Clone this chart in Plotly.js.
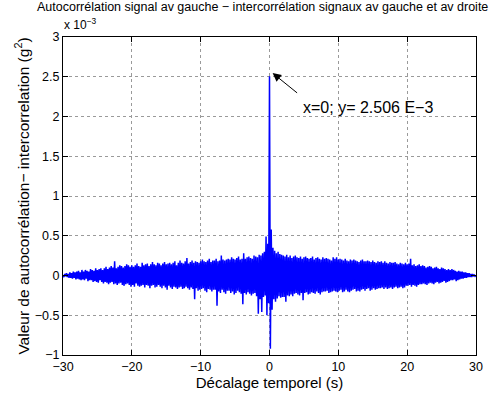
<!DOCTYPE html>
<html>
<head>
<meta charset="utf-8">
<script src="https://cdn.plot.ly/plotly-3.0.1.min.js"></script>
<style>html,body{margin:0;padding:0;background:#fff;}#chart{width:492px;height:403px;}</style>
</head>
<body>
<div id="chart"></div>
<script>
// Lag axis (s): regular sampling
const lagStart = -30;
const lagStep = 0.125;

// Correlation difference values, in units of 1e-3 g^2
const corrValues = [
  0.00,-0.02,0.02,-0.01,0.03,-0.02,0.02,-0.03,0.04,-0.03,0.03,-0.04,0.05,-0.03,0.04,-0.05,
  0.05,-0.04,0.06,-0.05,0.04,-0.06,0.07,-0.05,0.05,-0.06,0.07,-0.04,0.06,-0.07,0.05,-0.06,
  0.08,-0.06,0.07,-0.08,0.06,-0.07,0.09,-0.08,0.07,-0.09,0.08,-0.06,0.09,-0.08,0.07,-0.10,
  0.09,-0.08,0.11,-0.09,0.08,-0.11,0.10,-0.09,0.12,-0.08,0.10,-0.11,0.18,-0.10,0.09,-0.12,
  0.11,-0.10,0.13,-0.09,0.12,-0.12,0.10,-0.13,0.12,-0.11,0.14,-0.10,0.13,-0.12,0.11,-0.14,
  0.13,-0.12,0.11,-0.14,0.13,-0.10,0.15,-0.13,0.12,-0.14,0.11,-0.13,0.16,-0.12,0.13,-0.15,
  0.14,-0.12,0.15,-0.13,0.12,-0.16,0.14,-0.13,0.17,-0.12,0.14,-0.15,0.13,-0.14,0.16,-0.12,
  0.15,-0.14,0.13,-0.16,0.15,-0.13,0.17,-0.15,0.14,-0.18,0.15,-0.13,0.16,-0.15,0.14,-0.17,
  0.16,-0.14,0.18,-0.15,0.13,-0.17,0.16,-0.15,0.19,-0.14,0.16,-0.17,0.15,-0.16,0.18,-0.14,
  0.22,-0.16,0.15,-0.18,0.17,-0.15,0.19,-0.17,0.16,-0.30,0.18,-0.16,0.17,-0.19,0.16,-0.18,
  0.18,-0.17,0.20,-0.16,0.18,-0.19,0.17,-0.21,0.19,-0.17,0.21,-0.18,0.17,-0.20,0.19,-0.18,
  0.19,-0.18,0.21,-0.38,0.18,-0.20,0.19,-0.22,0.25,-0.18,0.20,-0.21,0.19,-0.23,0.20,-0.19,
  0.21,-0.19,0.20,-0.22,0.23,-0.20,0.21,-0.24,0.20,-0.22,0.22,-0.19,0.24,-0.21,0.20,-0.23,
  0.21,-0.36,0.28,-0.22,0.21,-0.24,0.23,-0.21,0.24,-0.23,0.22,-0.25,0.21,-0.23,0.25,-0.22,
  0.24,-0.26,0.23,-0.48,0.26,-0.30,0.25,-0.46,0.28,-0.27,0.30,-0.25,0.49,-0.50,0.40,-0.35,
  2.506,-0.92,0.58,-0.43,0.35,-0.30,0.31,-0.33,0.28,-0.29,0.30,-0.26,0.27,-0.28,0.26,-0.27,
  0.25,-0.27,0.24,-0.33,0.26,-0.25,0.23,-0.26,0.25,-0.24,0.22,-0.26,0.24,-0.23,0.25,-0.22,
  0.23,-0.24,0.22,-0.25,0.24,-0.22,0.21,-0.31,0.23,-0.22,0.24,-0.21,0.22,-0.24,0.21,-0.23,
  0.22,-0.21,0.24,-0.22,0.20,-0.23,0.22,-0.20,0.23,-0.22,0.21,-0.24,0.20,-0.21,0.23,-0.20,
  0.21,-0.20,0.22,-0.19,0.21,-0.22,0.20,-0.21,0.19,-0.20,0.23,-0.19,0.21,-0.20,0.23,-0.21,
  0.20,-0.19,0.21,-0.18,0.20,-0.21,0.19,-0.20,0.21,-0.18,0.19,-0.20,0.18,-0.21,0.20,-0.19,
  0.19,-0.18,0.20,-0.17,0.19,-0.20,0.18,-0.19,0.17,-0.20,0.19,-0.18,0.20,-0.17,0.18,-0.19,
  0.18,-0.17,0.19,-0.16,0.18,-0.19,0.17,-0.18,0.19,-0.16,0.17,-0.18,0.16,-0.17,0.18,-0.16,
  0.17,-0.16,0.18,-0.15,0.16,-0.17,0.18,-0.15,0.16,-0.17,0.15,-0.16,0.17,-0.15,0.16,-0.17,
  0.16,-0.15,0.17,-0.14,0.15,-0.16,0.14,-0.15,0.16,-0.14,0.15,-0.16,0.14,-0.15,0.16,-0.13,
  0.14,-0.13,0.15,-0.12,0.21,-0.14,0.13,-0.12,0.14,-0.13,0.12,-0.14,0.13,-0.12,0.14,-0.11,
  0.12,-0.11,0.13,-0.10,0.12,-0.11,0.10,-0.12,0.11,-0.10,0.12,-0.09,0.11,-0.10,0.09,-0.11,
  0.10,-0.09,0.11,-0.08,0.09,-0.10,0.08,-0.09,0.10,-0.08,0.09,-0.07,0.08,-0.09,0.07,-0.08,
  0.08,-0.07,0.07,-0.06,0.08,-0.06,0.07,-0.05,0.06,-0.07,0.05,-0.06,0.06,-0.05,0.05,-0.04,
  0.05,-0.04,0.04,-0.03,0.04,-0.03,0.03,-0.02,0.03,-0.02,0.02,-0.02,0.02,-0.01,0.01,-0.01,
  0.00
];

const xTickVals = [-30, -20, -10, 0, 10, 20, 30];
const yTickVals = [-1, -0.5, 0, 0.5, 1, 1.5, 2, 2.5, 3];

const peakLag = 0;
const peakValue = 2.506;
const peakLabel = "x=0; y= 2.506 E\u22123";

const lags = corrValues.map((_, i) => lagStart + i * lagStep);

const font = "Liberation Sans, Arial, Helvetica, sans-serif";

const trace = {
  x: lags,
  y: corrValues,
  type: 'scatter',
  mode: 'lines',
  line: {color: '#0000ff', width: 1.5},
  hoverinfo: 'skip'
};

const axisCommon = {
  showline: true,
  linecolor: '#000',
  linewidth: 1,
  mirror: 'ticks',
  ticks: 'inside',
  ticklen: 5,
  tickcolor: '#000',
  showgrid: true,
  gridcolor: '#9a9a9a',
  griddash: 'dot',
  gridwidth: 1,
  zeroline: false,
  tickfont: {family: font, size: 12.5, color: '#000'}
};

const layout = {
  width: 492,
  height: 403,
  margin: {l: 63, r: 16, t: 37, b: 48},
  paper_bgcolor: '#fff',
  plot_bgcolor: '#fff',
  showlegend: false,
  title: {
    text: 'Autocorrélation signal av gauche \u2212 intercorrélation signaux av gauche et av droite',
    font: {family: font, size: 12.5, color: '#000'},
    xref: 'container', x: 37 / 492, xanchor: 'left',
    yref: 'container', y: 0.983, yanchor: 'middle'
  },
  xaxis: Object.assign({}, axisCommon, {
    range: [-30, 30],
    tickvals: xTickVals,
    title: {text: 'Décalage temporel (s)', font: {family: font, size: 15, color: '#000'}, standoff: 3}
  }),
  yaxis: Object.assign({}, axisCommon, {
    range: [-1, 3],
    tickvals: yTickVals,
    title: {text: 'Valeur de autocorrélation\u2212 intercorrelation (g<sup>2</sup>)', font: {family: font, size: 15.5, color: '#000'}, standoff: 1}
  }),
  annotations: [
    {
      xref: 'paper', yref: 'paper', x: -0.003, y: 1.0, xanchor: 'left', yanchor: 'bottom',
      yshift: 3,
      text: 'x 10<sup>\u22123</sup>', showarrow: false,
      font: {family: font, size: 12, color: '#000'}
    },
    {
      xref: 'x', yref: 'y', x: peakLag + 0.45, y: peakValue + 0.04,
      ax: 26, ay: 21, text: '', showarrow: true,
      arrowhead: 2, arrowsize: 1.7, arrowwidth: 1, arrowcolor: '#000',
      standoff: 0, startstandoff: 0
    },
    {
      xref: 'x', yref: 'y', x: 4.6, y: 2.11, xanchor: 'left', yanchor: 'middle',
      text: peakLabel, showarrow: false,
      font: {family: font, size: 16, color: '#000'}
    }
  ]
};

Plotly.newPlot('chart', [trace], layout, {displayModeBar: false, staticPlot: true});
</script>
</body>
</html>
